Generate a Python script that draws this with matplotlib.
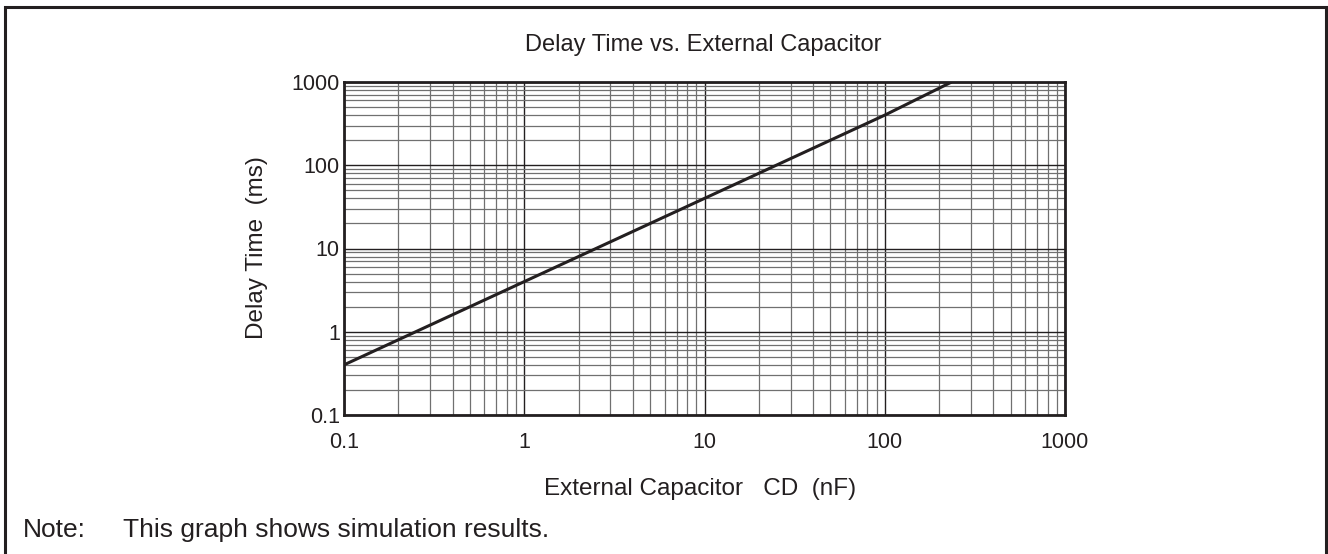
import matplotlib
matplotlib.use('Agg')
import matplotlib.pyplot as plt
from matplotlib.patches import Rectangle
from matplotlib.ticker import LogLocator, NullFormatter, FixedFormatter, FixedLocator

plt.rcParams['font.family'] = ['Liberation Sans', 'DejaVu Sans']

# Data
cap_nf = [0.1, 1, 10, 100, 235]
delay_ms = [0.40, 4.0, 40, 400, 1000]
tick_vals = [0.1, 1, 10, 100, 1000]
tick_labels = ['0.1', '1', '10', '100', '1000']

W, H = 1328, 554
fig = plt.figure(figsize=(W / 100, H / 100), dpi=100)
ax = fig.add_axes([344 / W, 1 - 415 / H, 721 / W, 333 / H])

ax.plot(cap_nf, delay_ms, color='#231f20', lw=2.2, solid_capstyle='butt')
ax.set_xscale('log')
ax.set_yscale('log')
ax.set_xlim(0.1, 1000)
ax.set_ylim(0.1, 1000)

ax.xaxis.set_major_locator(FixedLocator(tick_vals))
ax.xaxis.set_major_formatter(FixedFormatter(tick_labels))
ax.yaxis.set_major_locator(FixedLocator(tick_vals))
ax.yaxis.set_major_formatter(FixedFormatter(tick_labels))
ax.xaxis.set_minor_locator(LogLocator(base=10, subs=range(2, 10), numticks=20))
ax.yaxis.set_minor_locator(LogLocator(base=10, subs=range(2, 10), numticks=20))
ax.xaxis.set_minor_formatter(NullFormatter())
ax.yaxis.set_minor_formatter(NullFormatter())

ax.grid(which='major', color='#231f20', lw=1.0)
ax.grid(which='minor', color='#707070', lw=0.9)
ax.tick_params(which='both', length=0, labelsize=15.5, colors='#231f20')
ax.tick_params(axis='x', pad=12)
ax.tick_params(axis='y', pad=3)
for s in ax.spines.values():
    s.set_linewidth(2.0)
    s.set_color('#231f20')

txt = dict(color='#231f20', ha='center', va='center')
fig.text(703 / W, 1 - 45 / H, 'Delay Time vs. External Capacitor', fontsize=17, **txt)
fig.text(700 / W, 1 - 489 / H, 'External Capacitor   CD  (nF)', fontsize=17.5, **txt)
fig.text(257 / W, 1 - 248 / H, 'Delay Time  (ms)', fontsize=17.5, rotation=90, **txt)
fig.text(23 / W, 1 - 530 / H, 'Note:', ha='left', va='center', fontsize=19, color='#231f20')
fig.text(123 / W, 1 - 530 / H, 'This graph shows simulation results.', ha='left', va='center',
         fontsize=19, color='#231f20')

# outer frame, open at the bottom edge of the image
fig.patches.append(Rectangle((5 / W, -0.05), 1321 / W, 1.05 - 7 / H, transform=fig.transFigure,
                             fill=False, edgecolor='#231f20', lw=2.2))

fig.savefig('out.png', dpi=100)
